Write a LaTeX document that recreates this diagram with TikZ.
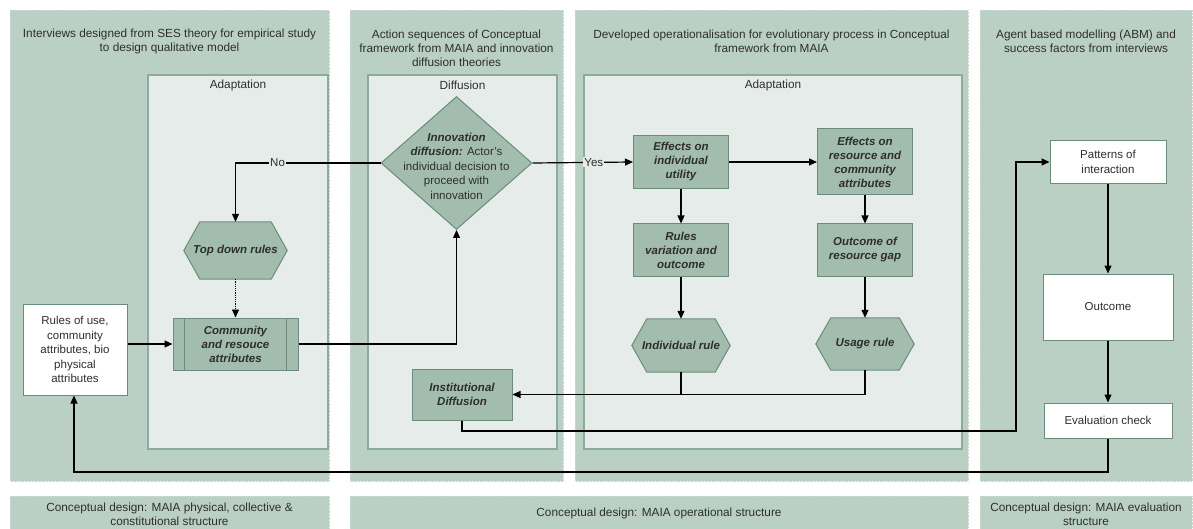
\documentclass[tikz,border=0pt]{standalone}
\usepackage{fontspec}
\setmainfont{Liberation Sans}
\usetikzlibrary{arrows.meta,shapes.geometric}
\definecolor{panelc}{HTML}{BBD0C4}
\definecolor{innerc}{HTML}{E6ECE9}
\definecolor{innerb}{HTML}{8DAB9C}
\definecolor{nodef}{HTML}{A2BDAE}
\definecolor{nodeb}{HTML}{6B8C7C}
\definecolor{txt}{HTML}{2E2E2E}
\pgfdeclarelayer{bgpanel}
\pgfdeclarelayer{shapes}
\pgfsetlayers{bgpanel,shapes,main}
\begin{document}
\begin{tikzpicture}[x=1pt,y=-1pt,
  panel/.style={fill=panelc, draw=panelc!80!white, densely dotted},
  innerbox/.style={fill=innerc, draw=innerb, line width=1.3pt},
  title/.style={align=center, text=txt, font=\fontsize{11.8}{14}\selectfont},
  proc/.style={draw=nodeb, fill=nodef, line width=1pt, align=center, text=txt,
    font=\fontsize{11.5}{14}\selectfont\bfseries\itshape, inner sep=1pt},
  hexnode/.style={align=center, text=txt, inner sep=1pt,
    font=\fontsize{11.5}{14}\selectfont\bfseries\itshape},
  plain/.style={draw=nodeb, fill=white, line width=1pt, align=center, text=txt,
    font=\fontsize{11.5}{14.5}\selectfont, inner sep=1pt},
  conn/.style={draw=black, line width=1.2pt},
  arr/.style={conn, -{Triangle[length=8pt,width=7pt]}},
  lbl/.style={fill=innerc, inner sep=1pt, text=txt, font=\fontsize{11.5}{12}\selectfont}
]
\useasboundingbox (0,0) rectangle (1193,529);

% panels
\begin{pgfonlayer}{bgpanel}
\path[panel] (10,10) rectangle (329,481);
\path[panel] (350,10) rectangle (563,481);
\path[panel] (575,10) rectangle (968,481);
\path[panel] (980,10) rectangle (1192,481);
\path[panel] (10,496) rectangle (329,529);
\path[panel] (350,496) rectangle (968,529);
\path[panel] (980,496) rectangle (1192,529);
\path[innerbox] (148,75) rectangle (328,449);
\path[innerbox] (368,75) rectangle (557,449);
\path[innerbox] (584,75) rectangle (962,449);
\end{pgfonlayer}

% titles
\node[title] (t1) at (169.5,41) {Interviews designed from SES theory for empirical study\\to design qualitative model};
\node[title] (t2) at (456.5,48) {Action sequences of Conceptual\\framework from MAIA and innovation\\diffusion theories};
\node[title] (t3) at (771.5,41) {Developed operationalisation for evolutionary process in Conceptual\\framework from MAIA};
\node[title] (t4) at (1086,41) {Agent based modelling (ABM) and\\success factors from interviews};
\node[title] (s1) at (238,85) {Adaptation};
\node[title] (s2) at (462.5,85) {Diffusion};
\node[title] (s3) at (773,85) {Adaptation};
\node[title] (b1) at (169.5,514) {Conceptual design: MAIA physical, collective \&\\constitutional structure};
\node[title] (b2) at (659,513) {Conceptual design: MAIA operational structure};
\node[title] (b3) at (1086,514) {Conceptual design: MAIA evaluation\\structure};

% diamond
\node[diamond, draw=nodeb, fill=nodef, line width=1pt, minimum width=151, minimum height=133, inner sep=0pt] (dia) at (456.5,163) {};
\node[align=center, text=txt, font=\fontsize{11.5}{14.5}\selectfont] (diatext) at ([yshift=-3pt]dia.center) {{\bfseries\itshape Innovation}\\{\bfseries\itshape diffusion:} Actor's\\individual decision to\\proceed with\\innovation};

% process boxes
\node[proc, minimum width=95, minimum height=53] (eff1) at (681,162) {Effects on\\individual\\utility};
\node[proc, minimum width=95, minimum height=66] (eff2) at (865,162) {Effects on\\resource and\\community\\attributes};
\node[proc, minimum width=95, minimum height=52] (rvar) at (681,250) {Rules\\variation and\\outcome};
\node[proc, minimum width=95, minimum height=52] (ogap) at (865,250) {Outcome of\\resource gap};
\node[proc, minimum width=100, minimum height=51] (inst) at (462,394.5) {Institutional\\Diffusion};
\node[proc, minimum width=125, minimum height=52] (comm) at (235.5,344) {Community\\and resouce\\attributes};
\draw[draw=nodeb, line width=1pt] ([xshift=12pt]comm.north west) -- ([xshift=12pt]comm.south west);
\draw[draw=nodeb, line width=1pt] ([xshift=-12pt]comm.north east) -- ([xshift=-12pt]comm.south east);

% hexagons
\node[hexnode, minimum width=103, minimum height=57] (topd) at (235.5,250.5) {Top down rules};
\node[hexnode, minimum width=98, minimum height=53] (indr) at (681,345.5) {Individual rule};
\node[hexnode, minimum width=98, minimum height=52] (usage) at (865,344) {Usage rule};
\begin{pgfonlayer}{shapes}
\foreach \h/\d in {topd/16, indr/15, usage/15}{
  \draw[draw=nodeb, fill=nodef, line width=1pt] (\h.west) -- ([xshift=\d pt]\h.north west) -- ([xshift=-\d pt]\h.north east) -- (\h.east) -- ([xshift=-\d pt]\h.south east) -- ([xshift=\d pt]\h.south west) -- cycle;
}
\end{pgfonlayer}

% white boxes
\node[plain, minimum width=104, minimum height=91] (rules) at (75,349.5) {Rules of use,\\community\\attributes, bio\\physical\\attributes};
\node[plain, minimum width=116, minimum height=43] (pat) at (1108,162) {Patterns of\\interaction};
\node[plain, minimum width=130, minimum height=66] (outc) at (1108,307) {Outcome};
\node[plain, minimum width=128, minimum height=35] (eval) at (1108,420.5) {Evaluation check};

% connectors
\draw[arr] (dia.west) -| node[lbl, pos=0.355] {No} (topd.north);
\draw[arr] (dia.east) -- node[lbl, pos=0.61] {Yes} (eff1.west);
\draw[arr] (eff1.east) -- (eff2.west);
\draw[arr] (eff1.south) -- (rvar.north);
\draw[arr] (rvar.south) -- (indr.north);
\draw[arr] (eff2.south) -- (ogap.north);
\draw[arr] (ogap.south) -- (usage.north);
\draw[arr, densely dotted, line width=0.8pt] (topd.south) -- (comm.north);
\draw[arr] (rules.east |- comm.west) -- (comm.west);
\draw[arr] (comm.east) -| (dia.south);
\draw[arr] (usage.south) |- (inst.east);
\draw[conn] (indr.south) |- (inst.east);
\coordinate (c1) at (1016,431);
\draw[arr] (inst.south) |- (c1) |- (pat.west);
\draw[arr] (pat.south) -- (outc.north);
\draw[arr] (outc.south) -- (eval.north);
\coordinate (c2) at (74,472);
\draw[arr] (eval.south) |- (c2) -- (rules.south -| c2);
\end{tikzpicture}
\end{document}
